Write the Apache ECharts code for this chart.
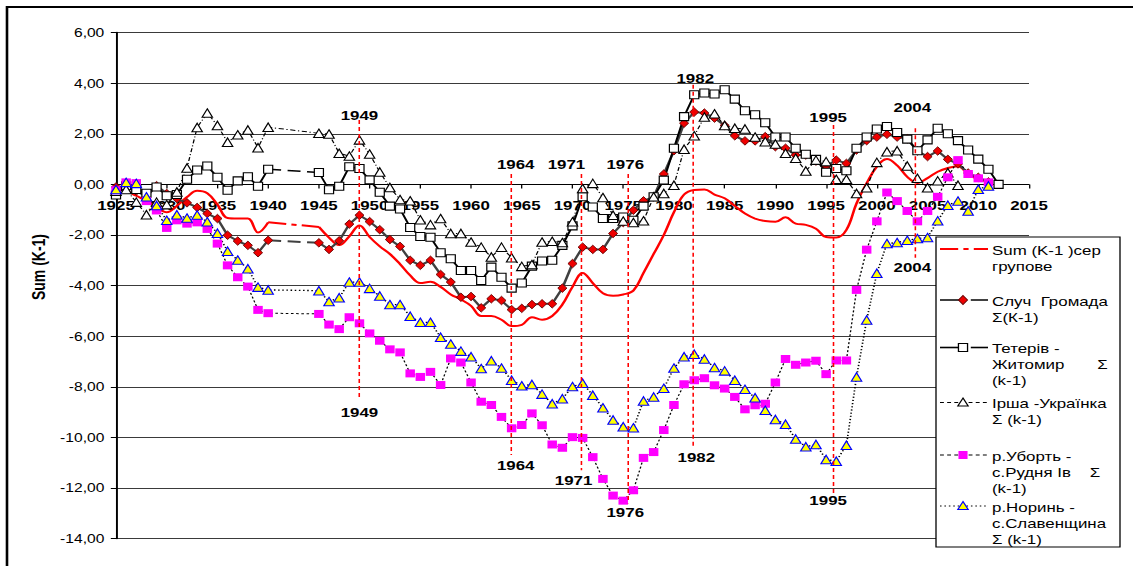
<!DOCTYPE html>
<html>
<head>
    <meta charset="utf-8">
    <script src="https://cdn.jsdelivr.net/npm/echarts@6.0.0/dist/echarts.min.js"></script>
</head>
<body style="margin: 0; background: #fff; overflow: hidden">
<div id="container" style="width: 872px; height: 566px; transform-origin: 0 0"></div>
<script type="text/javascript">
    // years on the x axis (1941-1944 have no observations)
    var years = [1925, 1926, 1927, 1928, 1929, 1930, 1931, 1932, 1933, 1934,
        1935, 1936, 1937, 1938, 1939, 1940, 1941, 1942, 1943, 1944,
        1945, 1946, 1947, 1948, 1949, 1950, 1951, 1952, 1953, 1954,
        1955, 1956, 1957, 1958, 1959, 1960, 1961, 1962, 1963, 1964,
        1965, 1966, 1967, 1968, 1969, 1970, 1971, 1972, 1973, 1974,
        1975, 1976, 1977, 1978, 1979, 1980, 1981, 1982, 1983, 1984,
        1985, 1986, 1987, 1988, 1989, 1990, 1991, 1992, 1993, 1994,
        1995, 1996, 1997, 1998, 1999, 2000, 2001, 2002, 2003, 2004,
        2005, 2006, 2007, 2008, 2009, 2010, 2011, 2012];

    // Sum (K-1) сер групове
    var sumGroup = [-0.15, -0.25, -0.45, -0.65, -0.9, -1.1, -0.85, -0.5, -0.25, -0.35,
        -0.8, -1.33, -1.35, -1.35, -1.9, -1.5, null, null, null, null,
        -1.68, -2.1, -2.4, -2.05, -1.62, -2.08, -2.45, -2.75, -3.15, -3.6,
        -3.9, -3.85, -4.05, -4.35, -4.55, -4.8, -5.2, -5.2, -5.35, -5.6,
        -5.55, -5.25, -5.35, -5.2, -4.75, -4.05, -3.5, -3.9, -4.3, -4.4,
        -4.35, -4.2, -3.5, -2.75, -2.0, -1.1, -0.4, -0.22, -0.2, -0.4,
        -0.55, -0.85, -1.15, -1.35, -1.45, -1.48, -1.3, -1.55, -1.6, -1.75,
        -2.08, -2.1, -1.8, -0.75, 0.05, 0.7, 1.0, 0.75, 0.3, 0.06,
        0.25, 0.5, 0.65, 0.72, 0.4, 0.2, 0.12, null];

    // Случ Громада
    var sluch = [-0.1, -0.1, -0.26, -0.49, -0.05, -0.36, -0.56, -0.73, -0.91, -1.15,
        -1.35, -2.01, -2.24, -2.41, -2.7, -2.21, null, null, null, null,
        -2.31, -2.57, -2.23, -1.57, -1.22, -1.47, -1.79, -2.18, -2.45, -3.0,
        -3.2, -3.0, -3.56, -3.86, -4.46, -4.43, -4.88, -4.52, -4.59, -4.95,
        -4.9, -4.75, -4.72, -4.72, -4.1, -3.13, -2.48, -2.57, -2.57, -1.94,
        -1.51, -1.02, -0.65, -0.49, 0.41, 1.33, 2.42, 2.86, 2.82, 2.62,
        2.33, 1.92, 1.72, 1.72, 1.89, 1.49, 1.43, 1.16, 1.16, 0.92,
        0.73, 0.96, 0.83, 1.36, 1.73, 1.87, 1.98, 1.87, 1.8, 1.32,
        1.1, 1.32, 0.99, 0.81, 0.45, 0.28, 0.1, null];

    // Тетерів - Житомир
    var teteriv = [-0.42, -0.05, -0.2, -0.35, -0.1, -0.45, -0.4, 0.2, 0.57, 0.73,
        0.28, -0.23, 0.14, 0.3, -0.07, 0.6, null, null, null, null,
        0.47, -0.21, -0.07, 0.7, 0.63, 0.18, -0.31, -0.86, -0.97, -1.7,
        -2.06, -2.09, -2.7, -2.94, -3.4, -3.4, -3.8, -3.27, -3.67, -4.1,
        -3.9, -3.23, -3.03, -3.0, -2.41, -1.64, -0.49, -0.89, -1.35, -1.35,
        -1.29, -1.42, -0.86, -0.49, 0.17, 1.43, 2.68, 3.54, 3.61, 3.57,
        3.74, 3.37, 2.91, 2.75, 2.44, 1.87, 1.87, 1.43, 1.19, 0.99,
        0.48, 0.63, 0.54, 1.43, 1.87, 2.19, 2.29, 2.05, 1.79, 1.33,
        1.76, 2.22, 2.0, 1.73, 1.36, 1.0, 0.6, 0.0];

    // Ірша - Українка
    var irsha = [-0.27, -0.2, -0.7, -1.2, -0.7, -0.8, -0.3, 0.65, 2.25, 2.82,
        2.33, 1.67, 1.96, 2.15, 1.45, 2.26, null, null, null, null,
        2.02, 1.99, 1.23, 1.12, 1.76, 1.2, 0.49, -0.12, -0.6, -0.65,
        -1.4, -1.59, -1.35, -1.94, -1.94, -2.28, -2.48, -2.87, -2.48, -2.9,
        -3.24, -3.17, -2.28, -2.25, -2.3, -1.48, -0.16, 0.04, -0.52, -1.22,
        -1.45, -1.51, -1.44, -0.49, -0.36, -0.03, 1.39, 1.92, 2.66, 2.79,
        2.33, 2.22, 2.19, 1.87, 1.69, 1.6, 1.23, 1.03, 0.53, 0.96,
        0.9, 0.2, 0.2, -0.36, -0.13, 0.87, 1.29, 1.33, 0.73, 0.24,
        -0.13, 0.14, 0.46, -0.03, null, null, null, null];

    // р.Уборть - с.Рудня Ів
    var uborth = [-0.23, 0.08, 0.05, -0.66, -1.03, -1.72, -1.42, -1.55, -1.5, -1.76,
        -2.34, -3.2, -3.67, -4.04, -4.96, -5.09, null, null, null, null,
        -5.12, -5.54, -5.72, -5.25, -5.49, -5.89, -6.18, -6.52, -6.64, -7.47,
        -7.61, -7.41, -7.93, -6.88, -7.04, -7.83, -8.59, -8.72, -9.19, -9.64,
        -9.51, -9.05, -9.52, -10.28, -10.41, -9.99, -10.02, -10.78, -11.64, -12.3,
        -12.5, -12.09, -10.81, -10.58, -9.71, -8.72, -7.9, -7.74, -7.66, -7.94,
        -8.07, -8.4, -8.89, -8.73, -8.67, -7.83, -6.9, -7.13, -7.04, -6.97,
        -7.5, -6.96, -6.96, -4.17, -2.58, -1.46, -0.32, -0.66, -1.05, -1.46,
        -1.05, -0.49, 0.28, 0.96, 0.41, 0.24, 0.08, null];

    // р.Норинь - с.Славенщина
    var noryn = [-0.2, 0.08, 0.04, -0.49, -0.83, -1.42, -1.2, -1.33, -1.21, -1.48,
        -1.93, -2.64, -2.99, -3.33, -4.06, -4.17, null, null, null, null,
        -4.2, -4.63, -4.48, -3.86, -3.86, -4.11, -4.41, -4.75, -4.75, -5.21,
        -5.45, -5.45, -6.04, -6.31, -6.59, -6.81, -7.28, -6.97, -7.26, -7.74,
        -7.96, -7.91, -8.29, -8.67, -8.47, -7.99, -7.86, -8.33, -8.83, -9.31,
        -9.58, -9.62, -8.56, -8.4, -8.06, -7.26, -6.81, -6.71, -6.9, -7.24,
        -7.37, -7.74, -8.1, -8.43, -8.93, -9.29, -9.48, -10.06, -10.37, -10.28,
        -10.87, -10.94, -10.31, -7.61, -5.36, -3.51, -2.34, -2.3, -2.21, -2.14,
        -2.1, -1.44, -0.82, -0.66, -1.05, -0.19, -0.06, null];

    // marked years: dashed guide lines and their captions
    var markText = ['1949', '1964', '1971', '1976', '1982', '1995', '2004'];
    var markX = [1948.9, 1963.9, 1970.9, 1975.4, 1981.9, 1995.7, 2003.8];
    var markTop = [2.55, 0.41, 0.41, 0.41, 3.94, 2.35, 2.22];
    var markBottom = [-8.5, -10.7, -11.3, -12.6, -10.35, -12.2, -2.9];
    var captionTopX = [1949.0, 1964.4, 1969.4, 1975.2, 1982.1, 1995.2, 2003.5];
    var captionTopY = [2.72, 0.79, 0.79, 0.79, 4.21, 2.64, 3.04];
    var captionBottomX = [1949.0, 1964.4, 1970.1, 1975.2, 1982.2, 1995.2, 2003.5];
    var captionBottomY = [-9.0, -11.1, -11.7, -12.95, -10.8, -12.5, -3.27];

    var names = ['Sum (К-1 )сер групове', 'Случ  Громада Σ(К-1)', 'Тетерів - Житомир Σ (k-1)',
        'Ірша -Українка Σ (k-1)', 'р.Уборть - с.Рудня Ів Σ (k-1)', 'р.Норинь - с.Славенщина Σ (k-1)'];

    var Y_MIN = -14, Y_MAX = 6;
    // the original picture is stretched horizontally
    var K = 1133 / 872;
    var FONT = '"Liberation Sans", Arial, sans-serif';
    var NB = '\u00a0';
    var GRID_TOP = 32.6, GRID_BOTTOM = 27.4, H = 566;

    function withBreaks(vals) {
        return years.map(function (y, i) { return [y, vals[i] == null ? '-' : vals[i]]; });
    }
    function present(vals) {
        return years.map(function (y, i) { return [y, vals[i]]; })
            .filter(function (p) { return p[1] != null; });
    }
    // straight pieces that bridge the missing years
    function bridges(vals) {
        var out = [], last = -1;
        vals.forEach(function (v, i) {
            if (v == null) return;
            if (last >= 0 && i - last > 1) {
                out.push([years[last], vals[last]], [years[i], v], [years[i], '-']);
            }
            last = i;
        });
        return out;
    }

    var dom = document.getElementById("container");
    dom.style.transform = 'scaleX(' + K + ')';
    var myChart = echarts.init(dom, null, {renderer: 'svg'});

    // legend drawn by hand so the marker sits on the first text line
    var LX0 = 940 / K, LX1 = 988 / K, LSX = 963 / K, LTX = 992 / K;
    var legendRows = [
        {y: 249, text: 'Sum (K-1 )сер\nгрупове'},
        {y: 300, text: 'Случ' + NB + NB + 'Громада\nΣ(К-1)'},
        {y: 347.5, text: 'Тетерів -\nЖитомир' + NB + NB + NB + NB + NB + NB + NB + 'Σ\n(k-1)'},
        {y: 402.5, text: 'Ірша -Українка\nΣ (k-1)'},
        {y: 455, text: 'р.Уборть -\nс.Рудня Ів' + NB + NB + NB + NB + 'Σ\n(k-1)'},
        {y: 506, text: 'р.Норинь -\nс.Славенщина\nΣ (k-1)'}
    ];

    function seg(x1, x2, y, stroke, w, dash) {
        return {type: 'line', z: 101, shape: {x1: x1, y1: y, x2: x2, y2: y},
            style: {stroke: stroke, lineWidth: w, lineDash: dash || null}};
    }
    function tri(cx, cy, fill, stroke) {
        return {type: 'polygon', z: 102, shape: {points: [[cx, cy - 4.5], [cx + 4, cy + 3.5], [cx - 4, cy + 3.5]]},
            style: {fill: fill, stroke: stroke, lineWidth: 1}};
    }
    function box(cx, cy, fill, stroke) {
        return {type: 'rect', z: 102, shape: {x: cx - 3.5, y: cy - 4, width: 7, height: 8},
            style: {fill: fill, stroke: stroke || null, lineWidth: 1}};
    }

    var r = legendRows;
    var graphics = [
        {type: 'rect', z: 1, shape: {x: 7 / K, y: 7, width: 1000, height: 1000},
            style: {fill: 'rgba(0,0,0,0)', stroke: '#000', lineWidth: 2}},
        {type: 'text', z: 5, x: 38.5 / K, y: 267, rotation: Math.PI / 2,
            style: {text: 'Sum (K-1)', fontSize: 14, fontWeight: 'bold', fontFamily: FONT,
                fill: '#000', align: 'center', verticalAlign: 'middle'}},
        {type: 'rect', z: 100, shape: {x: 936 / K, y: 237, width: (1120 - 936) / K, height: 310},
            style: {fill: '#fff', stroke: '#000', lineWidth: 1}},
        seg(LX0, LX1, r[0].y, '#ff0000', 2, [14, 4, 4, 4]),
        seg(LX0, LSX, r[1].y, '#404040', 2),
        seg(LSX + 6, LX1, r[1].y, '#404040', 2),
        {type: 'polygon', z: 102, shape: {points: [[LSX, r[1].y - 4.5], [LSX + 3.5, r[1].y], [LSX, r[1].y + 4.5], [LSX - 3.5, r[1].y]]},
            style: {fill: '#ee0000', stroke: '#600', lineWidth: 0.8}},
        seg(LX0, LSX, r[2].y, '#000', 1.6),
        seg(LSX + 6, LX1, r[2].y, '#000', 1.6),
        box(LSX, r[2].y, '#fff', '#000'),
        seg(LX0, LX1, r[3].y, '#000', 1, [3, 2.5]),
        tri(LSX, r[3].y, '#fff', '#000'),
        seg(LX0, LX1, r[4].y, '#000', 1, [3, 2.5]),
        box(LSX, r[4].y, '#ff00ff'),
        seg(LX0, LX1, r[5].y, '#000', 1.2, [1.2, 2.2]),
        tri(LSX, r[5].y, '#ffff00', '#0000ff')
    ];
    legendRows.forEach(function (row) {
        graphics.push({type: 'text', z: 103, x: LTX, y: row.y - 7,
            style: {text: row.text, fontSize: 13, fontFamily: FONT, lineHeight: 16,
                fill: '#000', align: 'left', verticalAlign: 'top'}});
    });

    var guideLines = markX.map(function (x, i) {
        return [{coord: [x, markTop[i]]}, {coord: [x, markBottom[i]]}];
    });
    var captions = markText.map(function (t, i) { return [captionTopX[i], captionTopY[i], t]; })
        .concat(markText.map(function (t, i) { return [captionBottomX[i], captionBottomY[i], t]; }));

    // move the year axis up from the grid bottom to the zero line
    var zeroOffset = -(H - GRID_TOP - GRID_BOTTOM) * (0 - Y_MIN) / (Y_MAX - Y_MIN);

    var option = {
        animation: false,
        textStyle: {fontFamily: FONT},
        graphic: graphics,
        grid: {left: 116 / K, right: 872 - 1029 / K, top: GRID_TOP, bottom: GRID_BOTTOM},
        xAxis: {
            type: 'value', min: 1925, max: 2015, interval: 5,
            position: 'bottom', offset: zeroOffset,
            axisLine: {onZero: false, lineStyle: {color: '#000', width: 1}},
            axisTick: {show: true, length: 4, lineStyle: {color: '#000'}},
            axisLabel: {color: '#000', fontSize: 13, fontWeight: 'bold', margin: 14,
                showMinLabel: true, showMaxLabel: true,
                formatter: function (v) { return String(v); }},
            splitLine: {show: false}
        },
        yAxis: {
            type: 'value', min: Y_MIN, max: Y_MAX, interval: 2,
            axisLine: {show: true, onZero: false, lineStyle: {color: '#000', width: 1.5}},
            axisTick: {show: true, length: 4, lineStyle: {color: '#000'}},
            axisLabel: {color: '#000', fontSize: 12, margin: 9,
                formatter: function (v) { return v.toFixed(2).replace('.', ','); }},
            splitLine: {show: true, lineStyle: {color: '#3a3a3a', width: 1}}
        },
        series: [
            {
                name: names[0], type: 'line', smooth: 0.4, showSymbol: false,
                data: withBreaks(sumGroup),
                lineStyle: {color: '#ff0000', width: 2},
                markLine: {
                    silent: true, symbol: ['none', 'none'], label: {show: false},
                    lineStyle: {color: '#ff0000', type: [4, 3], width: 1.2},
                    data: guideLines
                }
            },
            {
                type: 'line', showSymbol: false, data: bridges(sumGroup),
                lineStyle: {color: '#ff0000', width: 2, type: [14, 4, 4, 4]}
            },
            {
                name: names[1], type: 'line', data: withBreaks(sluch),
                symbol: 'diamond', symbolSize: [7, 8.5], showAllSymbol: true,
                lineStyle: {color: '#404040', width: 2},
                itemStyle: {color: '#ee0000', borderColor: '#600', borderWidth: 0.8}
            },
            {
                type: 'line', showSymbol: false, data: bridges(sluch),
                lineStyle: {color: '#404040', width: 2, type: [10, 5]}
            },
            {
                name: names[2], type: 'line', data: withBreaks(teteriv),
                symbol: 'rect', symbolSize: [7, 8], showAllSymbol: true,
                lineStyle: {color: '#000', width: 1.6},
                itemStyle: {color: '#fff', borderColor: '#000', borderWidth: 1}
            },
            {
                type: 'line', showSymbol: false, data: bridges(teteriv),
                lineStyle: {color: '#000', width: 1.6, type: [10, 5]}
            },
            {
                name: names[3], type: 'line', data: present(irsha),
                symbol: 'triangle', symbolSize: [8, 8.5], showAllSymbol: true,
                lineStyle: {color: '#000', width: 1, type: [4, 2, 1, 2]},
                itemStyle: {color: '#fff', borderColor: '#000', borderWidth: 1}
            },
            {
                name: names[4], type: 'line', data: present(uborth),
                symbol: 'rect', symbolSize: [7.3, 8], showAllSymbol: true,
                lineStyle: {color: '#000', width: 1, type: [2, 2]},
                itemStyle: {color: '#ff00ff'}
            },
            {
                name: names[5], type: 'line', data: present(noryn),
                symbol: 'triangle', symbolSize: [8, 8.5], showAllSymbol: true,
                lineStyle: {color: '#000', width: 1.3, type: [1.2, 2]},
                itemStyle: {color: '#ffff00', borderColor: '#0000ff', borderWidth: 1}
            },
            {
                type: 'scatter', z: 10, data: captions, symbolSize: 1,
                itemStyle: {color: 'rgba(0,0,0,0)'},
                label: {show: true, position: 'inside', color: '#000', fontSize: 13, fontWeight: 'bold',
                    textBorderWidth: 0, opacity: 1,
                    formatter: function (p) { return p.value[2]; }}
            }
        ]
    };

    myChart.setOption(option, true);
</script>
</body>
</html>
